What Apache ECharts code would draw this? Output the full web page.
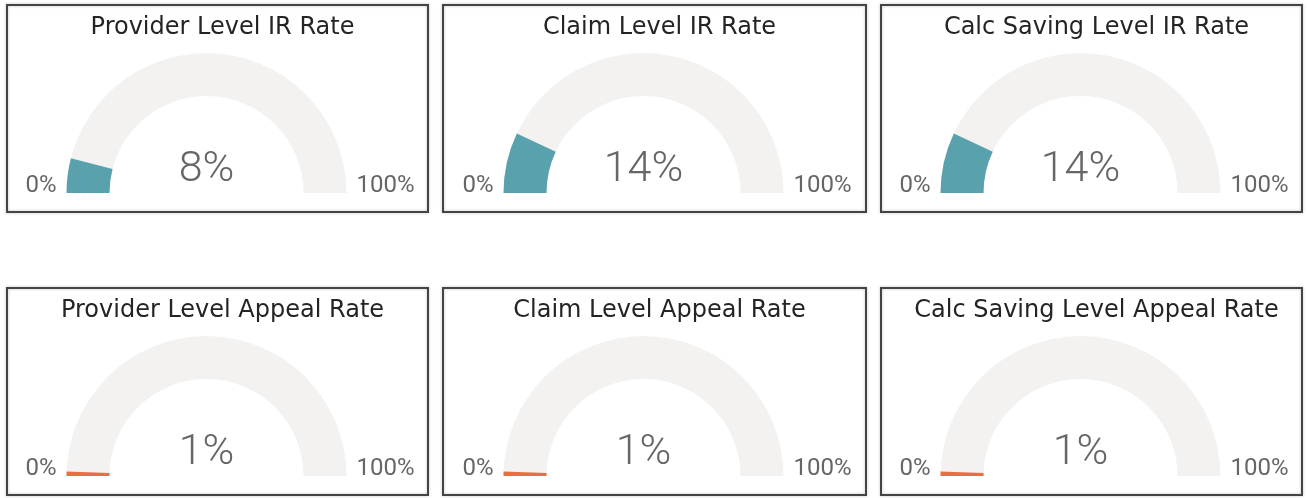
<!DOCTYPE html>
<html>
<head>
<meta charset="utf-8">
<script src="https://cdn.jsdelivr.net/npm/echarts@6/dist/echarts.min.js"></script>
<style>
html, body { margin: 0; padding: 0; background: #fff; }
#chart { width: 1307px; height: 498px; }
</style>
</head>
<body>
<div id="chart"></div>
<script>
// card titles and gauge values (percent)
const titles = [
  'Provider Level IR Rate', 'Claim Level IR Rate', 'Calc Saving Level IR Rate',
  'Provider Level Appeal Rate', 'Claim Level Appeal Rate', 'Calc Saving Level Appeal Rate'
];
const values = [8, 14, 14, 1, 1, 1];
const gaugeMin = 0;
const gaugeMax = 100;
const minLabel = '0%';
const maxLabel = '100%';

// card layout
const colLeft = [7, 443, 881];
const colRight = [428, 866, 1302];
const rowTop = [5, 288];
const cardH = 207;
const radius = 140;
const band = 43;
const barColors = ['#5AA1AE', '#5AA1AE', '#5AA1AE', '#E8703F', '#E8703F', '#E8703F'];

const chart = echarts.init(document.getElementById('chart'));
const titleList = [];
const series = [];
const graphics = [];

values.forEach(function (v, i) {
  const col = i % 3, row = Math.floor(i / 3);
  const left = colLeft[col], right = colRight[col], top = rowTop[row];
  const cx = (left + right) / 2 - 11;
  const cy = top + 188;

  graphics.push({
    type: 'rect',
    shape: { x: left, y: top, width: right - left, height: cardH },
    style: { fill: 'none', stroke: '#444', lineWidth: 2, shadowBlur: 3, shadowColor: 'rgba(0,0,0,0.25)' },
    z: 0
  });
  graphics.push({
    type: 'text',
    x: cx - radius - 10, y: cy + 5,
    style: { text: minLabel, align: 'right', verticalAlign: 'bottom',
      fontFamily: 'Roboto', fontSize: 24, fill: '#666' }
  });
  graphics.push({
    type: 'text',
    x: cx + radius + 10, y: cy + 5,
    style: { text: maxLabel, align: 'left', verticalAlign: 'bottom',
      fontFamily: 'Roboto', fontSize: 24, fill: '#666' }
  });

  titleList.push({
    text: titles[i],
    left: (left + right) / 2,
    top: top + 6,
    textAlign: 'center',
    textStyle: { fontFamily: 'DejaVu Sans', fontSize: 24, fontWeight: 'normal', color: '#252423' }
  });

  series.push({
    type: 'gauge',
    center: [cx, cy],
    radius: radius,
    startAngle: 180,
    endAngle: 0,
    min: gaugeMin,
    max: gaugeMax,
    pointer: { show: false },
    anchor: { show: false },
    axisTick: { show: false },
    splitLine: { show: false },
    axisLabel: { show: false },
    axisLine: { lineStyle: { width: band, color: [[1, '#F3F2F1']] } },
    progress: { show: true, width: band, roundCap: false, itemStyle: { color: barColors[i] } },
    title: { show: false },
    detail: {
      offsetCenter: [0, -23],
      formatter: '{value}%',
      fontFamily: 'Roboto',
      fontWeight: 300,
      fontSize: 43,
      color: '#666'
    },
    data: [{ value: v }]
  });
});

chart.setOption({
  animation: false,
  title: titleList,
  graphic: graphics,
  series: series
});
</script>
</body>
</html>
